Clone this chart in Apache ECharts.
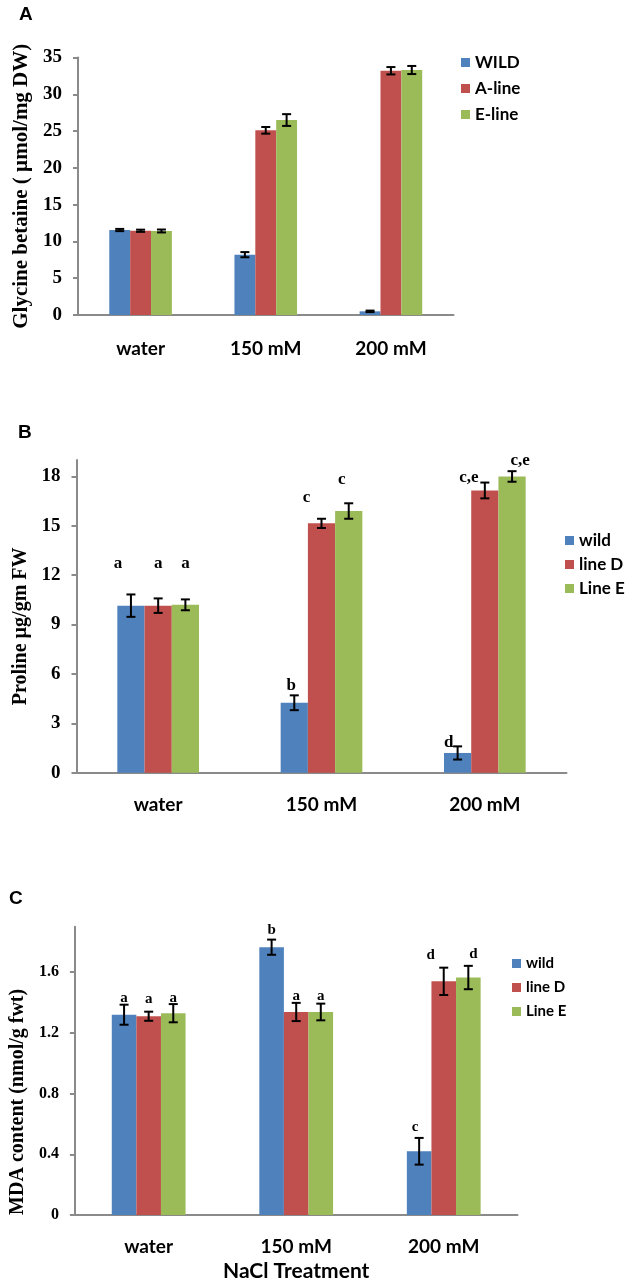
<!DOCTYPE html>
<html><head><meta charset="utf-8">
<script src="https://cdn.jsdelivr.net/npm/echarts@6/dist/echarts.min.js"></script>
<style>html,body{margin:0;padding:0;background:#fff}#c{width:630px;height:1283px}</style>
</head><body><div id="c"></div>
<script>
// ---------- data ----------
const categories = ['water', '150 mM', '200 mM'];

// Panel A : Glycine betaine
const namesA = ['WILD', 'A-line', 'E-line'];
const wildA = [11.55, 8.2, 0.5];
const aLineA = [11.45, 25.1, 33.2];
const eLineA = [11.42, 26.5, 33.3];
const wildA_err = [0.15, 0.35, 0.1];
const aLineA_err = [0.15, 0.45, 0.5];
const eLineA_err = [0.2, 0.8, 0.55];
const yTicksA = [0, 5, 10, 15, 20, 25, 30, 35];

// Panel B : Proline
const namesB = ['wild', 'line D', 'Line E'];
const wildB = [10.15, 4.25, 1.2];
const lineDB = [10.15, 15.15, 17.15];
const lineEB = [10.2, 15.9, 18.0];
const wildB_err = [0.68, 0.45, 0.4];
const lineDB_err = [0.44, 0.28, 0.48];
const lineEB_err = [0.33, 0.47, 0.32];
const lettersB_wild = ['a', 'b', 'd'];
const lettersB_D = ['a', 'c', 'c,e'];
const lettersB_E = ['a', 'c', 'c,e'];
const letterLevelB_wild = [12.72, 5.32, 1.82];
const letterLevelB_D = [12.72, 16.71, 17.92];
const letterLevelB_E = [12.72, 17.82, 18.97];
const yTicksB = [0, 3, 6, 9, 12, 15, 18];

// Panel C : MDA
const namesC = ['wild', 'line D', 'Line E'];
const wildC = [1.32, 1.765, 0.42];
const lineDC = [1.31, 1.338, 1.54];
const lineEC = [1.33, 1.338, 1.565];
const wildC_err = [0.066, 0.05, 0.088];
const lineDC_err = [0.03, 0.06, 0.09];
const lineEC_err = [0.06, 0.055, 0.077];
const lettersC_wild = ['a', 'b', 'c'];
const lettersC_D = ['a', 'a', 'd'];
const lettersC_E = ['a', 'a', 'd'];
const letterLevelC_wild = [1.43, 1.875, 0.576];
const letterLevelC_D = [1.42, 1.44, 1.71];
const letterLevelC_E = [1.43, 1.44, 1.716];
const yTicksC = [0, 0.4, 0.8, 1.2, 1.6];

// ---------- style ----------
const COLORS = ['#4F81BD', '#C0504D', '#9BBB59'];
const AXIS_GRAY = '#8a8a8a';
const SERIF = '"Liberation Serif", "Times New Roman", serif';
const SANS = 'Lato, "Open Sans", sans-serif';
// horizontal nudges of the significance letters (px)
const DX_B = [[-13, -3, -9], [0, -15, -16], [0, -7, 8]];
const DX_C = [[0, 0, -4], [0, 0, -13], [0, 0, 5]];

function errSeries(g, si, vals, errs, letters, levels, dx, fs) {
  const data = vals.map((v, i) => [i, v, errs[i], levels ? levels[i] : v]);
  return {
    type: 'custom', xAxisIndex: g, yAxisIndex: g, z: 5, silent: true,
    encode: { x: 0, y: 1 },
    data,
    renderItem(params, api) {
      const idx = api.value(0), v = api.value(1), e = api.value(2), lv = api.value(3);
      const band = api.size([1, 0])[0];
      const barW = band * 0.5 / 3;
      const x = api.coord([idx, v])[0] + (si - 1) * barW;
      const yT = api.coord([idx, v + e])[1];
      const yB = api.coord([idx, Math.max(0, v - e)])[1];
      const cap = 4.5;
      const st = { stroke: '#000', lineWidth: 2 };
      const children = [
        { type: 'line', shape: { x1: x, y1: yT, x2: x, y2: yB }, style: st },
        { type: 'line', shape: { x1: x - cap, y1: yT, x2: x + cap, y2: yT }, style: st },
        { type: 'line', shape: { x1: x - cap, y1: yB, x2: x + cap, y2: yB }, style: st }
      ];
      if (letters) {
        children.push({
          type: 'text', x: x + dx[idx], y: api.coord([idx, lv])[1],
          style: { text: letters[idx], align: 'center', verticalAlign: 'middle',
                   fontFamily: SERIF, fontWeight: 'bold', fontSize: fs, fill: '#000' }
        });
      }
      return { type: 'group', children };
    }
  };
}

function bar(g, si, name, vals) {
  return { type: 'bar', name, xAxisIndex: g, yAxisIndex: g, data: vals,
           barGap: '0%', barCategoryGap: '50%', itemStyle: { color: COLORS[si] } };
}

function xAx(g, margin, extra) {
  return Object.assign({
    type: 'category', gridIndex: g, data: categories,
    axisLine: { lineStyle: { color: AXIS_GRAY, width: 2 } },
    axisTick: { show: false },
    axisLabel: { margin, fontFamily: SANS, fontWeight: 'bold', fontSize: 19, color: '#000' }
  }, extra || {});
}

function yAx(g, max, interval, ticks, name, nameGap, nameSize, lblSize, namePad) {
  return {
    type: 'value', gridIndex: g, min: 0, max, interval,
    axisLine: { show: true, lineStyle: { color: AXIS_GRAY, width: 2 } },
    axisTick: { show: true, length: 5, lineStyle: { color: AXIS_GRAY, width: 2 }, customValues: ticks },
    axisLabel: { customValues: ticks, margin: 16, fontFamily: SERIF, fontWeight: 'bold',
                 fontSize: lblSize, color: '#000' },
    splitLine: { show: false },
    name, nameLocation: 'middle', nameGap,
    nameTextStyle: { fontFamily: SERIF, fontWeight: 'bold', fontSize: nameSize, color: '#000',
                     padding: namePad || 0 }
  };
}

function legend(left, top, names, fs, gap) {
  return { orient: 'vertical', left, top, data: names, icon: 'rect', itemWidth: 9, itemHeight: 9,
           itemGap: gap, selectedMode: false, padding: 0,
           textStyle: { fontFamily: SANS, fontWeight: 'bold', fontSize: fs, color: '#000', lineHeight: fs } };
}

const panelTitle = (t, left, top) => ({ text: t, left, top, padding: 0,
  textStyle: { fontFamily: '"Liberation Sans", Arial, sans-serif', fontWeight: 'bold', fontSize: 19, color: '#000' } });

const option = {
  animation: false,
  backgroundColor: '#fff',
  title: [panelTitle('A', 19, 5), panelTitle('B', 18, 423), panelTitle('C', 9, 889)],
  legend: [
    legend(461, 54, namesA, 17, 9),
    legend(565, 532, namesB, 17, 7),
    legend(512, 956, namesC, 15, 9)
  ],
  grid: [
    { left: 78, top: 57.5, width: 375.5, height: 257.5 },
    { left: 76.5, top: 460, width: 490, height: 312.7 },
    { left: 65, top: 926.7, width: 452.5, height: 288.3 }
  ],
  xAxis: [
    xAx(0, 24),
    xAx(1, 23),
    xAx(2, 22, { name: 'NaCl Treatment', nameLocation: 'middle', nameGap: 46,
                 nameTextStyle: { fontFamily: SANS, fontWeight: 'bold', fontSize: 21, color: '#000' } })
  ],
  yAxis: [
    yAx(0, 35, 5, yTicksA, 'Glycine betaine ( µmol/mg DW)', 42, 21, 19),
    yAx(1, 19, 3, yTicksB, 'Proline µg/gm FW', 36, 20, 19, [0, 20, 0, 0]),
    yAx(2, 1.9, 0.4, yTicksC, 'MDA content (nmol/g fwt)', 41, 20, 16, [0, 62, 0, 0])
  ],
  series: [
    bar(0, 0, namesA[0], wildA), bar(0, 1, namesA[1], aLineA), bar(0, 2, namesA[2], eLineA),
    errSeries(0, 0, wildA, wildA_err), errSeries(0, 1, aLineA, aLineA_err), errSeries(0, 2, eLineA, eLineA_err),

    bar(1, 0, namesB[0], wildB), bar(1, 1, namesB[1], lineDB), bar(1, 2, namesB[2], lineEB),
    errSeries(1, 0, wildB, wildB_err, lettersB_wild, letterLevelB_wild, DX_B[0], 17),
    errSeries(1, 1, lineDB, lineDB_err, lettersB_D, letterLevelB_D, DX_B[1], 17),
    errSeries(1, 2, lineEB, lineEB_err, lettersB_E, letterLevelB_E, DX_B[2], 17),

    bar(2, 0, namesC[0], wildC), bar(2, 1, namesC[1], lineDC), bar(2, 2, namesC[2], lineEC),
    errSeries(2, 0, wildC, wildC_err, lettersC_wild, letterLevelC_wild, DX_C[0], 15),
    errSeries(2, 1, lineDC, lineDC_err, lettersC_D, letterLevelC_D, DX_C[1], 15),
    errSeries(2, 2, lineEC, lineEC_err, lettersC_E, letterLevelC_E, DX_C[2], 15)
  ]
};

const chart = echarts.init(document.getElementById('c'), null, { renderer: 'canvas' });
chart.setOption(option);
</script>
</body></html>
